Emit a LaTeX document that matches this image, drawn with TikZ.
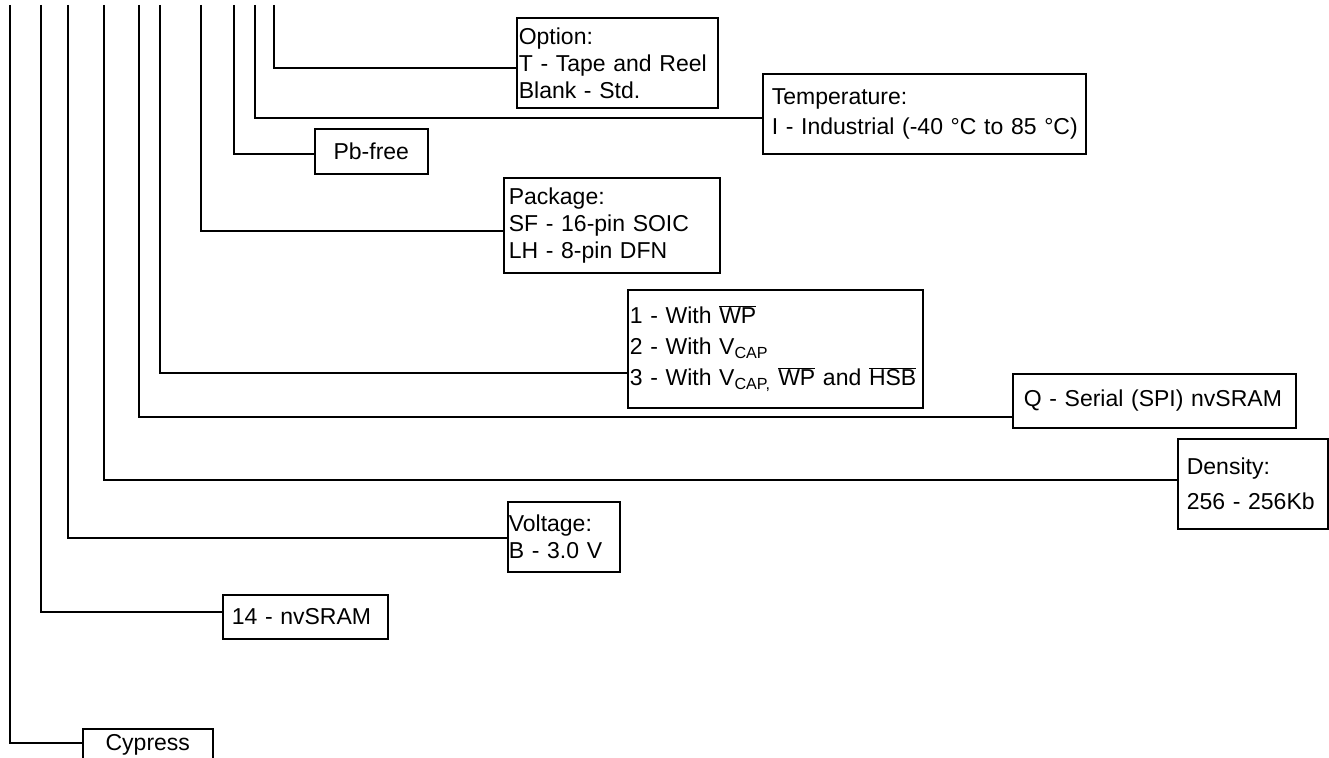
\documentclass[tikz,border=0pt]{standalone}
\usepackage{fontspec}
\setmainfont{Liberation Sans}
\usepackage{tikz}
\usetikzlibrary{positioning}
\newcommand{\barsig}[1]{$\overline{\hbox{#1}}$}

\begin{document}
\begin{tikzpicture}[x=1pt,y=-1pt,
  partbox/.style={draw,line width=1.6pt,anchor=north west,align=left,inner xsep=3pt,inner ysep=0pt,font=\fontsize{23}{27}\selectfont},
  wire/.style={line width=1.6pt}]
\useasboundingbox (0,0) rectangle (1329,757);
\clip (0,0) rectangle (1329,757);
\node[partbox,inner xsep=2pt,text width=197,minimum height=90] (opt) at (516,17) {Option:\\\mbox{T - Tape and Reel}\\Blank - Std.};
\node[partbox,inner xsep=9pt,text width=305,minimum height=80,font=\fontsize{23}{30}\selectfont] (temp) at (762,73) {Temperature:\\\mbox{I - Industrial (-40 \textdegree C to 85 \textdegree C)}};
\node[partbox,align=center,text width=107,minimum height=45] (pbf) at (314,128) {Pb-free};
\node[partbox,inner xsep=5pt,text width=206,minimum height=95] (pkg) at (503,177) {Package:\\\mbox{SF - 16-pin SOIC}\\\mbox{LH - 8-pin DFN}};
\node[partbox,inner xsep=2pt,text width=291,minimum height=118,font=\fontsize{23}{31}\selectfont] (mode) at (627,289) {1 - With \barsig{WP}\\2 - With V\textsubscript{CAP}\\\mbox{3 - With V\textsubscript{CAP,} \barsig{WP} and \barsig{HSB}}};
\node[partbox,inner xsep=11pt,text width=261,minimum height=54] (ser) at (1012,373) {\mbox{Q - Serial (SPI) nvSRAM}};
\node[partbox,inner xsep=9pt,text width=132,minimum height=90,font=\fontsize{23}{35}\selectfont] (dens) at (1177,438) {Density:\\\mbox{256 - 256Kb}};
\node[partbox,inner xsep=1pt,text width=110,minimum height=70] (volt) at (507,501) {Voltage:\\\mbox{B - 3.0 V}};
\node[partbox,inner xsep=9pt,text width=147,minimum height=44] (fam) at (222,594) {\mbox{14 - nvSRAM}};
\node[partbox,align=center,text width=124,minimum height=32] (cyp) at (82,728) {Cypress};
% taps along the top edge
\coordinate (top1) at (274,5);
\coordinate (top2) at (255,5);
\coordinate (top3) at (234,5);
\coordinate (top4) at (201,5);
\coordinate (top5) at (160,5);
\coordinate (top6) at (139,5);
\coordinate (top7) at (104,5);
\coordinate (top8) at (68,5);
\coordinate (top9) at (41,5);
\coordinate (top10) at (10,5);
\coordinate (bend1) at (274,68);
\coordinate (bend2) at (255,118);
\coordinate (bend3) at (234,154);
\coordinate (bend4) at (201,231);
\coordinate (bend5) at (160,373);
\coordinate (bend6) at (139,417);
\coordinate (bend7) at (104,480);
\coordinate (bend8) at (68,538);
\coordinate (bend9) at (41,612);
\coordinate (bend10) at (10,743);
\draw[wire] (top1) -- (bend1) -- (bend1 -| opt.west);
\draw[wire] (top2) -- (bend2) -- (bend2 -| temp.west);
\draw[wire] (top3) -- (bend3) -- (bend3 -| pbf.west);
\draw[wire] (top4) -- (bend4) -- (bend4 -| pkg.west);
\draw[wire] (top5) -- (bend5) -- (bend5 -| mode.west);
\draw[wire] (top6) -- (bend6) -- (bend6 -| ser.west);
\draw[wire] (top7) -- (bend7) -- (bend7 -| dens.west);
\draw[wire] (top8) -- (bend8) -- (bend8 -| volt.west);
\draw[wire] (top9) -- (bend9) -- (bend9 -| fam.west);
\draw[wire] (top10) -- (bend10) -- (bend10 -| cyp.west);
\end{tikzpicture}
\end{document}
